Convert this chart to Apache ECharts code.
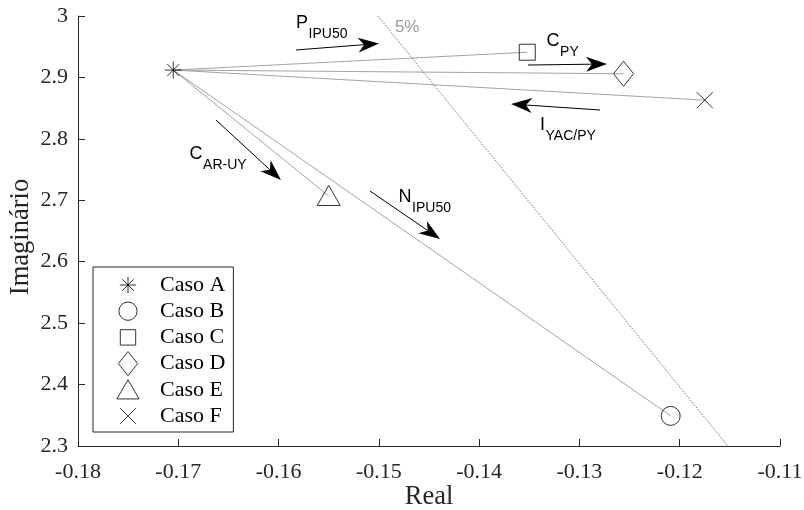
<!DOCTYPE html>
<html><head><meta charset="utf-8">
<script src="https://cdn.jsdelivr.net/npm/echarts@6/dist/echarts.min.js"></script>
<style>html,body{margin:0;padding:0;background:#fff}#c{width:804px;height:510px}</style>
</head><body><div id="c"></div>
<script>
// ---- data ----
const caseNames = ['Caso A', 'Caso B', 'Caso C', 'Caso D', 'Caso E', 'Caso F'];
const caseReal = [-0.1705, -0.1209, -0.1352, -0.1256, -0.1550, -0.1175];
const caseImag = [2.912, 2.349, 2.941, 2.906, 2.707, 2.863];

const xMin = -0.18, xMax = -0.11, xStep = 0.01;
const yMin = 2.3, yMax = 3.0, yStep = 0.1;

const dampReal = [-0.1501, -0.1152];
const dampImag = [3.0, 2.3];
const dampLabelText = '5%';
const dampLabelReal = -0.1484;
const dampLabelImag = 2.982;

const arrowFromReal = [-0.15826, -0.13513, -0.12795, -0.16624, -0.15088];
const arrowFromImag = [2.9447, 2.9202, 2.8470, 2.8307, 2.7151];
const arrowToReal = [-0.14998, -0.12725, -0.13682, -0.15976, -0.14390];
const arrowToImag = [2.9552, 2.9219, 2.8567, 2.7330, 2.6370];
const arrowMain = ['P', 'C', 'I', 'C', 'N'];
const arrowSub = ['IPU50', 'PY', 'YAC/PY', 'AR-UY', 'IPU50'];
const arrowLabelReal = [-0.15706, -0.13198, -0.13343, -0.16758, -0.14674];
const arrowLabelImag = [2.9881, 2.9598, 2.8226, 2.7754, 2.7058];

// ---- marker shapes (26x26 frame) ----
const frame = 'M-13 -13 M13 13 ';
const symbols = [
  'path://' + frame + 'M0 -8.5 L0 8.5 M-8.5 0 L8.5 0 M-6 -6 L6 6 M-6 6 L6 -6',
  'path://' + frame + 'M9.5 0 A9.5 9.5 0 1 1 -9.5 0 A9.5 9.5 0 1 1 9.5 0 Z',
  'path://' + frame + 'M-8 -8 L8 -8 L8 8 L-8 8 Z',
  'path://' + frame + 'M0 -12.5 L10 0 L0 12.5 L-10 0 Z',
  'path://' + frame + 'M0 -10.5 L11.5 9.5 L-11.5 9.5 Z',
  'path://' + frame + 'M-8 -8 L8 8 M-8 8 L8 -8'
];

const serif = '"Liberation Serif", "Times New Roman", serif';
const sans = '"Liberation Sans", Arial, sans-serif';
const axisColor = '#262626';

const series = [];
// gray rays from case A
for (let i = 1; i < caseNames.length; i++) {
  series.push({
    type: 'line', silent: true, showSymbol: false, symbol: 'none', z: 1,
    data: [[caseReal[0], caseImag[0]], [caseReal[i], caseImag[i]]],
    lineStyle: { color: '#a3a3a3', width: 1 }
  });
}
// 5% damping line
series.push({
  type: 'line', silent: true, showSymbol: false, symbol: 'none', z: 1,
  data: dampReal.map((r, i) => [r, dampImag[i]]),
  lineStyle: { color: '#4a4a4a', width: 0.8, type: [1.5, 1.5] }
});
series.push({
  type: 'scatter', silent: true, symbolSize: 0, z: 3,
  data: [[dampLabelReal, dampLabelImag]],
  label: { show: true, position: 'right', distance: 0, formatter: dampLabelText,
    color: '#808080', fontSize: 17, fontFamily: sans }
});
// markers
caseNames.forEach((n, i) => {
  series.push({
    type: 'scatter', name: n, z: 4,
    symbol: symbols[i], symbolSize: 26, symbolKeepAspect: true,
    data: [[caseReal[i], caseImag[i]]],
    itemStyle: { color: 'rgba(0,0,0,0)', borderColor: '#000', borderWidth: 1 },
    emphasis: { disabled: true }
  });
});
// arrows with labels
series.push({
  type: 'custom', silent: true, z: 5,
  encode: { x: [0, 2, 4], y: [1, 3, 5] },
  data: arrowMain.map((m, i) => [arrowFromReal[i], arrowFromImag[i], arrowToReal[i], arrowToImag[i], arrowLabelReal[i], arrowLabelImag[i]]),
  renderItem: function (params, api) {
    const i = params.dataIndex;
    const p0 = api.coord([api.value(0), api.value(1)]);
    const p1 = api.coord([api.value(2), api.value(3)]);
    const pl = api.coord([api.value(4), api.value(5)]);
    const dx = p1[0] - p0[0], dy = p1[1] - p0[1];
    const len = Math.hypot(dx, dy);
    const ux = dx / len, uy = dy / len, nx = -uy, ny = ux;
    const L = 21, W = 7.5, N = 6;
    const bx = p1[0] - ux * L, by = p1[1] - uy * L;
    const notch = [p1[0] - ux * (L - N), p1[1] - uy * (L - N)];
    const pts = [p1, [bx + nx * W, by + ny * W], notch, [bx - nx * W, by - ny * W]];
    return {
      type: 'group', children: [
        { type: 'line', shape: { x1: p0[0], y1: p0[1], x2: notch[0], y2: notch[1] }, style: { stroke: '#000', lineWidth: 1 } },
        { type: 'polygon', shape: { points: pts }, style: { fill: '#000' } },
        { type: 'text', x: pl[0], y: pl[1], style: { text: arrowMain[i], fontSize: 18, fontFamily: sans, fill: '#000', align: 'right', verticalAlign: 'middle' } },
        { type: 'text', x: pl[0] + 0.5, y: pl[1] + 11, style: { text: arrowSub[i], fontSize: 14, fontFamily: sans, fill: '#000', align: 'left', verticalAlign: 'middle' } }
      ]
    };
  }
});

const chart = echarts.init(document.getElementById('c'), null, { renderer: 'canvas' });
chart.setOption({
  animation: false,
  backgroundColor: '#fff',
  grid: { left: 78, right: 24, top: 16, bottom: 64, containLabel: false, outerBoundsMode: 'none' },
  xAxis: {
    type: 'value', min: xMin, max: xMax, interval: xStep,
    name: 'Real', nameLocation: 'middle', nameGap: 38, nameMoveOverlap: false,
    nameTextStyle: { fontFamily: serif, fontSize: 26.5, color: axisColor },
    axisLine: { show: true, onZero: false, lineStyle: { color: axisColor, width: 1 } },
    axisTick: { show: true, inside: true, length: 7, lineStyle: { color: axisColor } },
    axisLabel: { margin: 15, fontFamily: serif, fontSize: 22, color: axisColor,
      formatter: v => v.toFixed(2) },
    splitLine: { show: false }
  },
  yAxis: {
    type: 'value', min: yMin, max: yMax, interval: yStep,
    name: 'Imaginário', nameLocation: 'middle', nameGap: 43, nameMoveOverlap: false,
    nameTextStyle: { fontFamily: serif, fontSize: 26.5, color: axisColor, padding: [0, 12, 0, 0] },
    axisLine: { show: true, onZero: false, lineStyle: { color: axisColor, width: 1 } },
    axisTick: { show: true, inside: true, length: 7, lineStyle: { color: axisColor } },
    axisLabel: { margin: 10, fontFamily: serif, fontSize: 22, color: axisColor,
      formatter: v => String(parseFloat(v.toFixed(1))) },
    splitLine: { show: false }
  },
  legend: {
    data: caseNames, orient: 'vertical', left: 93, top: 267,
    padding: [5, 8, 3, 22], itemWidth: 54, itemHeight: 25, itemGap: 0.2,
    borderColor: axisColor, borderWidth: 1, backgroundColor: '#fff',
    selectedMode: false,
    itemStyle: { color: 'rgba(0,0,0,0)', borderColor: '#000', borderWidth: 1 },
    textStyle: { fontFamily: serif, fontSize: 22, color: '#000', lineHeight: 25, padding: 0 }
  },
  series: series
});
</script>
</body></html>
